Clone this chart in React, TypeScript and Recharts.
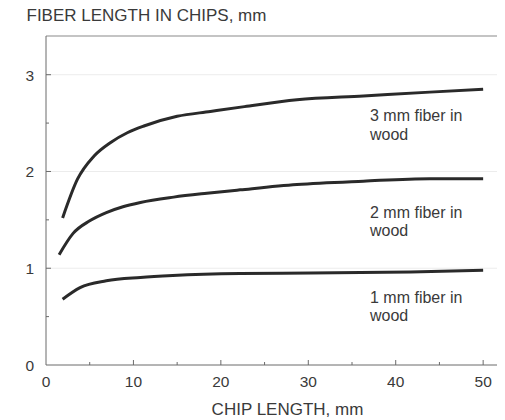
import React from "react";
import { LineChart, Line, XAxis, YAxis, ReferenceLine } from "recharts";

const chip3 = [1.9, 3.6, 5.5, 7.4, 9.3, 11.2, 15, 18.8, 22.7, 28.7, 36.3, 43.9, 50];
const fiber3 = [1.52, 1.92, 2.16, 2.3, 2.4, 2.47, 2.57, 2.62, 2.67, 2.74, 2.78, 2.82, 2.85];
const chip2 = [1.5, 3.1, 5.0, 6.9, 8.8, 10.8, 14.6, 18.4, 22.2, 28.7, 36.3, 43.9, 50];
const fiber2 = [1.14, 1.36, 1.49, 1.575, 1.635, 1.68, 1.735, 1.775, 1.81, 1.865, 1.9, 1.925, 1.925];
const chip1 = [1.9, 3.9, 6.9, 10.8, 14.5, 22.2, 30.3, 41.7, 50];
const fiber1 = [0.68, 0.8, 0.87, 0.905, 0.925, 0.945, 0.95, 0.962, 0.98];

const xTicks = [0, 5, 10, 15, 20, 25, 30, 35, 40, 45, 50];
const yTicks = [0, 0.5, 1, 1.5, 2, 2.5, 3];
const gridValues = [1, 2, 3];
const seriesLabels = ["3 mm fiber in", "2 mm fiber in", "1 mm fiber in"];

const toRows = (xs: number[], ys: number[]) => xs.map((x, i) => ({ x, y: ys[i] }));

const FONT = "'Liberation Sans', Arial, sans-serif";
const TEXT = "#3a3a3a";
const AXIS = "#6a6a6a";

const XTick = (props: any) => {
  const { x, y, payload } = props;
  const major = payload.value % 10 === 0;
  return (
    <g>
      {payload.value !== 0 && (
        <line x1={x} x2={x} y1={y} y2={y - (major ? 5 : 3)} stroke={AXIS} strokeWidth={1} />
      )}
      {major && (
        <text x={x} y={y + 22} textAnchor="middle" fontSize={15.5} fontFamily={FONT} fill={TEXT}>
          {payload.value}
        </text>
      )}
    </g>
  );
};

const YTick = (props: any) => {
  const { x, y, payload } = props;
  const major = Number.isInteger(payload.value);
  return (
    <g>
      {payload.value !== 0 && (
        <line x1={x} x2={x + (major ? 5 : 3)} y1={y} y2={y} stroke={AXIS} strokeWidth={1} />
      )}
      {major && (
        <text x={x - 12} y={y + 6} textAnchor="end" fontSize={15.5} fontFamily={FONT} fill={TEXT}>
          {payload.value}
        </text>
      )}
    </g>
  );
};

const labelStyle: React.CSSProperties = {
  position: "absolute",
  fontFamily: FONT,
  fontSize: 16,
  lineHeight: "18.5px",
  color: TEXT,
  whiteSpace: "nowrap",
};

export default function App() {
  return (
    <div style={{ position: "relative", width: 497, height: 412 }}>
      <LineChart width={497} height={412} margin={{ top: 28, right: 0, left: 0, bottom: 0 }}>
        <XAxis
          dataKey="x"
          type="number"
          domain={[0, 52.5]}
          ticks={xTicks}
          height={55}
          tickSize={0}
          tickMargin={0}
          tickLine={false}
          tick={<XTick />}
          stroke={AXIS}
          allowDataOverflow
        />
        <YAxis
          type="number"
          domain={[0, 3.4]}
          ticks={yTicks}
          width={38}
          tickSize={0}
          tickMargin={0}
          tickLine={false}
          tick={<YTick />}
          stroke={AXIS}
          allowDataOverflow
        />
        {gridValues.map((v) => (
          <ReferenceLine key={v} y={v} stroke="#ececec" strokeWidth={1} />
        ))}
        <ReferenceLine y={3.4} stroke="#8a8a8a" strokeWidth={1.2} />
        <Line data={toRows(chip3, fiber3)} dataKey="y" type="monotone" stroke="#2a2a2a" strokeWidth={3} dot={false} isAnimationActive={false} />
        <Line data={toRows(chip2, fiber2)} dataKey="y" type="monotone" stroke="#2a2a2a" strokeWidth={3} dot={false} isAnimationActive={false} />
        <Line data={toRows(chip1, fiber1)} dataKey="y" type="monotone" stroke="#2a2a2a" strokeWidth={3} dot={false} isAnimationActive={false} />
      </LineChart>
      <div style={{ ...labelStyle, left: 18.5, top: -2, fontSize: 17, lineHeight: "20px" }}>
        FIBER LENGTH IN CHIPS, mm
      </div>
      <div style={{ ...labelStyle, left: 179.5, width: 200, textAlign: "center", top: 392, fontSize: 17, lineHeight: "20px" }}>
        CHIP LENGTH, mm
      </div>
      <div style={{ ...labelStyle, left: 362, top: 99 }}>
        {seriesLabels[0]}
        <br />
        wood
      </div>
      <div style={{ ...labelStyle, left: 362, top: 195.5 }}>
        {seriesLabels[1]}
        <br />
        wood
      </div>
      <div style={{ ...labelStyle, left: 362, top: 280.5 }}>
        {seriesLabels[2]}
        <br />
        wood
      </div>
    </div>
  );
}
